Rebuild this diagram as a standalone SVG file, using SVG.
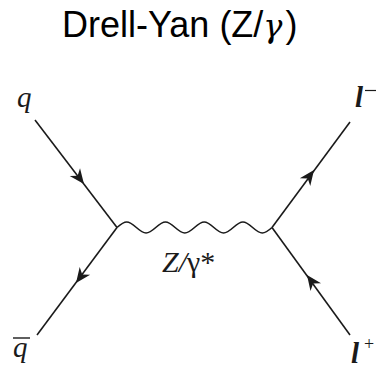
<svg xmlns="http://www.w3.org/2000/svg" width="377" height="371" viewBox="0 0 377 371">
<style>
.ln{stroke:#1a1a1a;stroke-width:1.6;fill:none}
.ah{fill:#1a1a1a}
.lab{font-family:"Liberation Serif","DejaVu Serif",serif;font-style:italic;fill:#1a1a1a}
.title{font-family:"Liberation Sans",Arial,sans-serif;font-size:36px;fill:#000}
.gk{font-family:"DejaVu Serif",serif;font-style:italic}
</style>
<defs>
<path id="arr" d="M0,0 L-15,-6.5 L-10.5,0 L-15,6.5 Z"/>
</defs>
<rect width="377" height="371" fill="#fff"/>
<text class="title" x="62" y="37">Drell-Yan (Z/<tspan class="gk" font-size="32" dx="0">γ</tspan><tspan dx="3">)</tspan></text>
<g id="connectors">
<path class="ln" d="M35,120 L117,227.5"/>
<use href="#arr" class="ah" transform="translate(84,184) rotate(52.5)"/>
<path class="ln" d="M117,227.5 L37,335"/>
<use href="#arr" class="ah" transform="translate(76,283) rotate(126.5)"/>
<path class="ln" d="M272,227.5 L350,122"/>
<use href="#arr" class="ah" transform="translate(314,170) rotate(-53.4)"/>
<path class="ln" d="M350,335 L272,227.5"/>
<use href="#arr" class="ah" transform="translate(307,275) rotate(-125.8)"/>
<path id="boson" class="ln" d="M117,227.5 C125.22,220.17 128.16,220.17 136.38,227.5 S147.53,234.83 155.75,227.5 S166.91,220.17 175.13,227.5 S186.28,234.83 194.5,227.5 S205.66,220.17 213.88,227.5 S225.03,234.83 233.25,227.5 S244.41,220.17 252.63,227.5 S263.78,234.83 272,227.5"/>
</g>
<g id="q"><text class="lab" x="17" y="107" font-size="29">q</text></g>
<g id="qbar"><text class="lab" x="13" y="357" font-size="29">q</text><line x1="13" y1="338" x2="30" y2="338" stroke="#1a1a1a" stroke-width="1.4"/></g>
<g id="lminus"><text class="lab" x="355" y="107" font-size="29" font-weight="bold">l</text><line x1="365" y1="90.5" x2="376" y2="90.5" stroke="#1a1a1a" stroke-width="1.2"/></g>
<g id="lplus"><text class="lab" x="351" y="363" font-size="29" font-weight="bold">l</text><text x="364" y="350" font-family="Liberation Serif,serif" font-size="18" fill="#1a1a1a">+</text></g>
<g id="zlabel"><text class="lab" x="162" y="272" font-size="30">Z/<tspan font-style="normal">γ</tspan><tspan font-style="normal">*</tspan></text></g>
</svg>
